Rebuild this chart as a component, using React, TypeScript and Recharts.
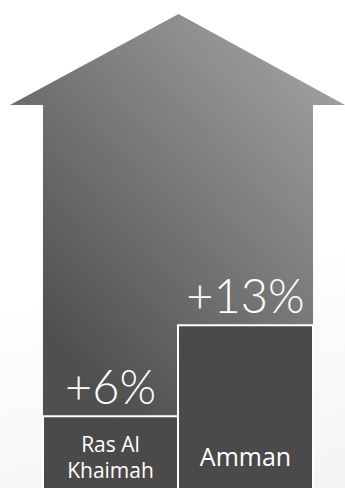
import React from 'react';
import { BarChart, Bar, XAxis, YAxis, LabelList, Customized } from 'recharts';

const categories = ['Ras Al Khaimah', 'Amman'];
const growth = [6, 13];

const data = categories.map((name, i) => ({ name, value: growth[i] }));

const W = 345;
const H = 494;
const margin = { top: 14, left: 43, right: 32, bottom: 0 };
// arrow head overhangs the shaft on both sides
const headDrop = 91;
const VALUE_FONT = "Lato, 'Open Sans', sans-serif";
const NAME_FONT = "'Open Sans', sans-serif";

const Arrow = () => {
  const left = margin.left;
  const right = W - margin.right;
  const top = margin.top;
  const bottom = H - margin.bottom;
  const headL = 10;
  const headR = W;
  const apex = (headL + headR) / 2 + 1;
  const base = top + headDrop;
  const d = `M${apex} ${top} L${headR} ${base} L${right} ${base} L${right} ${bottom} L${left} ${bottom} L${left} ${base} L${headL} ${base} Z`;
  return (
    <g>
      <defs>
        <linearGradient id="arrowFill" gradientUnits="userSpaceOnUse" x1={365} y1={87} x2={70} y2={360}>
          <stop offset="0%" stopColor="#a3a3a3" />
          <stop offset="100%" stopColor="#4f4f4f" />
        </linearGradient>
      </defs>
      <path d={d} fill="url(#arrowFill)" />
    </g>
  );
};

const ValueLabel = (props: any) => {
  const { x, y, width, value } = props;
  return (
    <text
      x={x + width / 2}
      y={y - 12}
      textAnchor="middle"
      fill="#ffffff"
      fontSize={47}
      fontWeight={300}
      fontFamily={VALUE_FONT}
    >
      {`+${value}%`}
    </text>
  );
};

const NameLabel = (props: any) => {
  const { x, y, width, height, value } = props;
  const name = String(value);
  const words = name.split(' ');
  const lines = name.length > 10 ? [words.slice(0, -1).join(' '), words[words.length - 1]] : [name];
  const size = lines.length > 1 ? 21 : 25;
  const cy = y + height - 37;
  const first = cy - ((lines.length - 1) * 26) / 2 + size * 0.36;
  return (
    <text textAnchor="middle" fill="#ffffff" fontSize={size} fontFamily={NAME_FONT}>
      {lines.map((l, i) => (
        <tspan key={i} x={x + width / 2} y={first + i * 26}>
          {l}
        </tspan>
      ))}
    </text>
  );
};

export default function App() {
  return (
    <div
      style={{
        width: W,
        height: 488,
        overflow: 'hidden',
        background: 'linear-gradient(170deg, #ffffff 55%, #f4f4f4 100%)',
      }}
    >
      <style>{'body{margin:0}'}</style>
      <BarChart width={W} height={H} data={data} margin={margin} barCategoryGap={0}>
        <XAxis dataKey="name" hide />
        <YAxis hide domain={[0, 37]} />
        <Customized component={Arrow} />
        <Bar dataKey="value" fill="#4a4a4a" stroke="#ffffff" strokeWidth={2} isAnimationActive={false}>
          <LabelList dataKey="value" content={ValueLabel} />
          <LabelList dataKey="name" content={NameLabel} />
        </Bar>
      </BarChart>
    </div>
  );
}
